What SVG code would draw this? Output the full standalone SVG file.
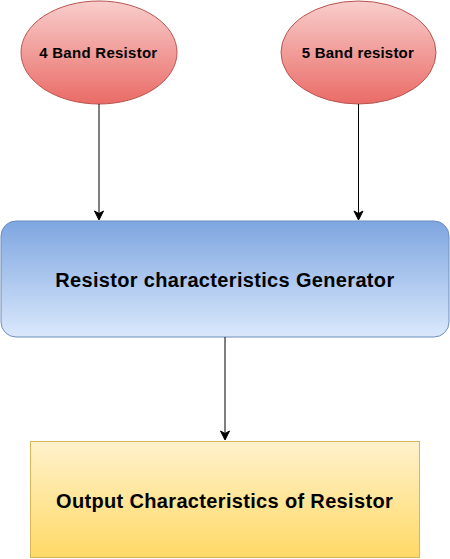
<svg xmlns="http://www.w3.org/2000/svg" width="450" height="559" viewBox="0 0 450 559">
<defs>
<linearGradient id="gRed" x1="0" y1="0" x2="0" y2="1"><stop offset="0" stop-color="#f8cecc"/><stop offset="1" stop-color="#ea6b66"/></linearGradient>
<linearGradient id="gBlue" x1="0" y1="0" x2="0" y2="1"><stop offset="0" stop-color="#7ea6e0"/><stop offset="1" stop-color="#dae8fc"/></linearGradient>
<linearGradient id="gYel" x1="0" y1="0" x2="0" y2="1"><stop offset="0" stop-color="#fff2cc"/><stop offset="1" stop-color="#ffd966"/></linearGradient>
<style>
.lbl{font-family:"Liberation Sans",Arial,sans-serif;font-weight:bold;fill:#000;text-anchor:middle}
.edge{stroke:#000;stroke-width:1;fill:none}
.head{fill:#000;stroke:#000;stroke-width:1}
</style>
</defs>
<g id="node-4band">
<ellipse cx="99" cy="52.5" rx="78" ry="51.5" fill="url(#gRed)" stroke="#b85450"/>
<text class="lbl" x="98.2" y="58.3" font-size="15" textLength="118" lengthAdjust="spacing">4 Band Resistor</text>
</g>
<g id="node-5band">
<ellipse cx="358.5" cy="52.5" rx="77.5" ry="51.5" fill="url(#gRed)" stroke="#b85450"/>
<text class="lbl" x="357.8" y="58.3" font-size="15" textLength="112" lengthAdjust="spacing">5 Band resistor</text>
</g>
<g id="node-generator">
<rect x="1" y="221" width="448" height="116" rx="15" ry="15" fill="url(#gBlue)" stroke="#6c8ebf"/>
<text class="lbl" x="224.7" y="286.7" font-size="20" textLength="339" lengthAdjust="spacing">Resistor characteristics Generator</text>
</g>
<g id="node-output">
<rect x="30.5" y="441.5" width="389" height="116" fill="url(#gYel)" stroke="#d6b656"/>
<text class="lbl" x="224.4" y="507.7" font-size="20" textLength="336.7" lengthAdjust="spacing">Output Characteristics of Resistor</text>
</g>
<g id="connectors">
<path class="edge" d="M99,104 V219"/>
<path class="head" d="M99,220 L94.5,211 L99,213.5 L103.5,211 Z"/>
<path class="edge" d="M358.5,104 V219"/>
<path class="head" d="M358.5,220 L354,211 L358.5,213.5 L363,211 Z"/>
<path class="edge" d="M225,337 V439"/>
<path class="head" d="M225,440 L220.5,431 L225,433.5 L229.5,431 Z"/>
</g>
</svg>
